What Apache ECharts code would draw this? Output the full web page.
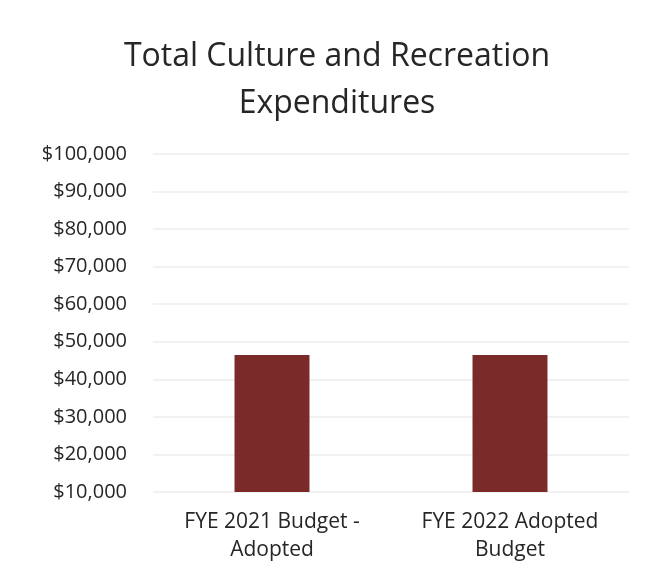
<!DOCTYPE html>
<html>
<head>
<meta charset="utf-8">
<script src="https://cdn.jsdelivr.net/npm/echarts@6/dist/echarts.min.js"></script>
<style>html,body{margin:0;padding:0;background:#fff}#c{width:650px;height:577px}</style>
</head>
<body>
<div id="c"></div>
<script>
const categories = ['FYE 2021 Budget -\nAdopted', 'FYE 2022 Adopted\nBudget'];
const expenditures = [46500, 46500];
const yTicks = { min: 10000, max: 100000, interval: 10000 };

const chart = echarts.init(document.getElementById('c'));
chart.setOption({
  animation: false,
  backgroundColor: '#ffffff',
  title: {
    text: 'Total Culture and Recreation\nExpenditures',
    left: 337,
    top: 33,
    padding: 0,
    textAlign: 'center',
    textStyle: { fontFamily: 'Open Sans', fontSize: 32, fontWeight: 'normal', color: '#262626', lineHeight: 47 }
  },
  grid: { left: 153, right: 21, top: 154, bottom: 85 },
  xAxis: {
    type: 'category',
    data: categories,
    axisLine: { show: false },
    axisTick: { show: false },
    axisLabel: { fontFamily: 'Open Sans', fontSize: 21, color: '#262626', lineHeight: 28, margin: 16 }
  },
  yAxis: {
    type: 'value',
    min: yTicks.min, max: yTicks.max, interval: yTicks.interval,
    axisLine: { show: false },
    axisTick: { show: false },
    splitLine: { lineStyle: { color: '#ececec', width: 1.5 } },
    axisLabel: {
      fontFamily: 'Open Sans', fontSize: 20, color: '#262626', margin: 26,
      formatter: v => '$' + v.toLocaleString('en-US')
    }
  },
  series: [{
    type: 'bar',
    data: expenditures,
    barWidth: '31.5%',
    itemStyle: { color: '#7a2b29' }
  }]
});
</script>
</body>
</html>
